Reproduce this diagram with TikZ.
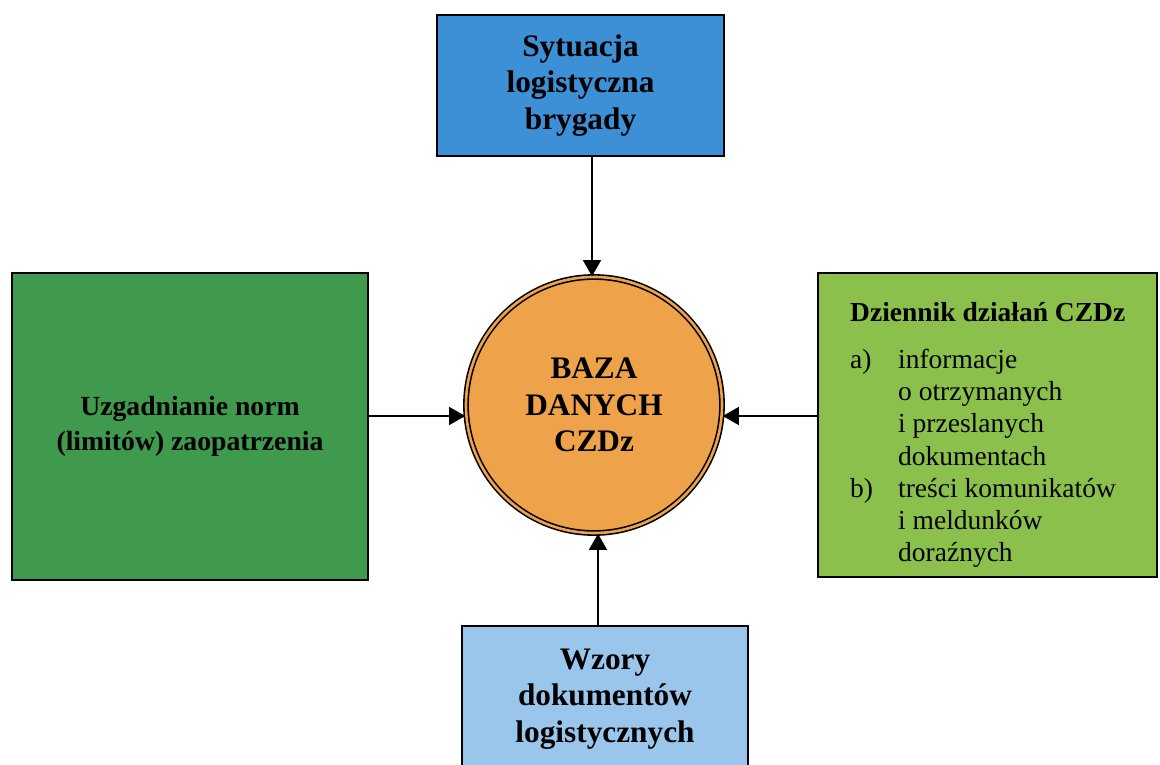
\documentclass[tikz,border=0pt]{standalone}
\usepackage{fontspec}
\setmainfont{Liberation Serif}
\usetikzlibrary{arrows.meta}
\definecolor{cTop}{HTML}{3D8FD6}
\definecolor{cLeft}{HTML}{3F9A4E}
\definecolor{cRight}{HTML}{8CC04C}
\definecolor{cBottom}{HTML}{9AC6EC}
\definecolor{cCircle}{HTML}{EEA24A}
\tikzset{
  box/.style={draw=black, line width=2pt, inner sep=0pt, align=center},
  bigfont/.style={font=\fontsize{31.3}{36.5}\selectfont\bfseries},
  arr/.style={line width=1.6pt, -{Triangle[length=16pt,width=18pt]}},
}
\begin{document}
\begin{tikzpicture}[x=1pt,y=-1pt]
\useasboundingbox (0,0) rectangle (1160,765);
\clip (0,0) rectangle (1160,765);
\fill[white] (0,0) rectangle (1160,765);
% top box
\node[box, bigfont, fill=cTop, minimum width=287pt, minimum height=141pt] (tb) at (580.5,85.5)
  {Sytuacja\\logistyczna\\brygady};
% left box
\node[box, fill=cLeft, minimum width=356pt, minimum height=307pt,
  font=\fontsize{27.7}{35}\selectfont\bfseries] (lb) at (190,426.5)
  {Uzgadnianie norm\\(limitów) zaopatrzenia};
% right box
\node[box, fill=cRight, minimum width=339pt, minimum height=304pt] (rb) at (987.5,425) {};
\node[anchor=north west, inner sep=0pt, align=left,
  font=\fontsize{27.5}{32.2}\selectfont] (rbt) at (850,302)
  {{\fontsize{27.5}{32.2}\selectfont\bfseries Dziennik działań CZDz}\\[15pt]
   \makebox[48pt][l]{a)}informacje\\
   \hspace*{48pt}o otrzymanych\\
   \hspace*{48pt}i przeslanych\\
   \hspace*{48pt}dokumentach\\
   \makebox[48pt][l]{b)}treści komunikatów\\
   \hspace*{48pt}i meldunków\\
   \hspace*{48pt}doraźnych};
% bottom box
\node[box, bigfont, fill=cBottom, minimum width=286pt, minimum height=146pt] (bb) at (605,699)
  {Wzory\\dokumentów\\logistycznych};
% circle
\node[circle, draw=black, line width=1.6pt, double=cCircle, double distance=2.6pt,
  fill=cCircle, minimum size=256pt, inner sep=0pt, align=center, bigfont] (c) at (594,405)
  {BAZA\\DANYCH\\CZDz};
% arrows
\draw[arr] ([xshift=-2pt]c.north |- tb.south) -- ([xshift=-2pt]c.north);
\draw[arr] ([xshift=4pt]c.south |- bb.north) -- ([xshift=4pt]c.south);
\draw[arr] (lb.east |- 0,416) -- (c.west |- 0,416);
\draw[arr] (rb.west |- 0,416) -- (c.east |- 0,416);
\end{tikzpicture}
\end{document}
